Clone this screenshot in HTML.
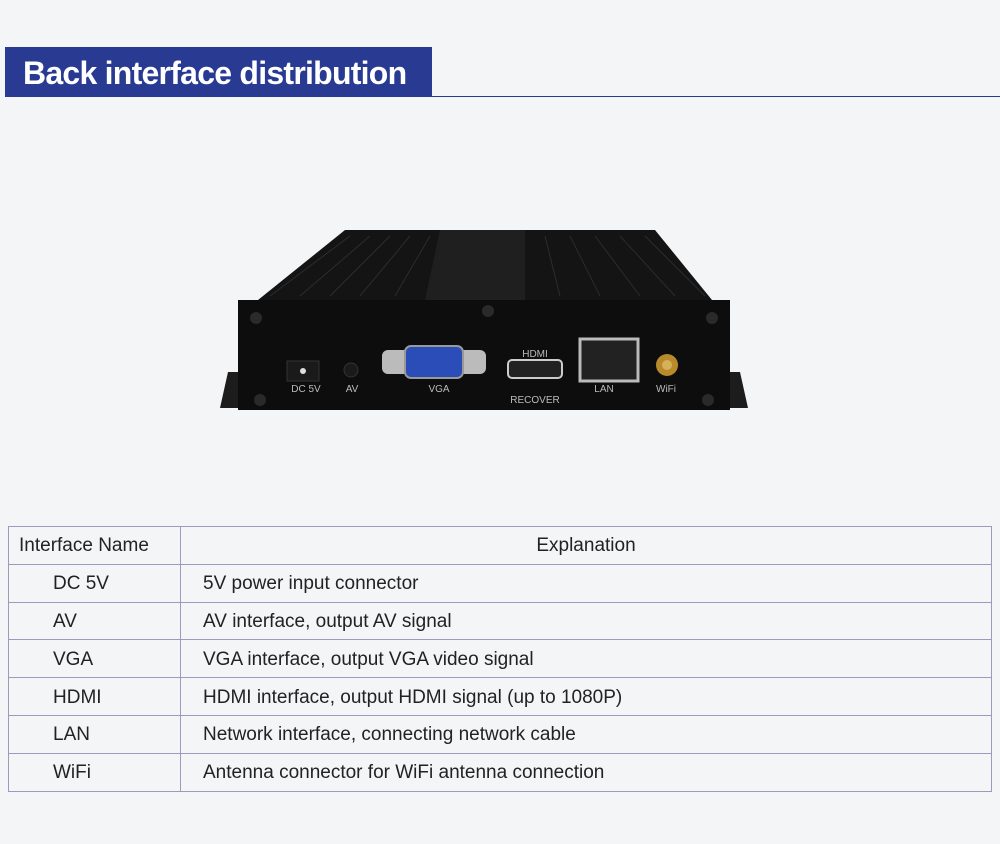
<!DOCTYPE html>
<html><head><meta charset="utf-8"><style>
body{margin:0;width:1000px;height:844px;background:#f4f5f7;position:relative;overflow:hidden;font-family:"Liberation Sans","DejaVu Sans",sans-serif}
.hd{position:absolute;left:5px;top:47px;width:427px;height:50px;background:#283a91;color:#fff;font-weight:bold;font-size:32px;line-height:52px;padding-left:18px;box-sizing:border-box;letter-spacing:-0.75px}
.ln{position:absolute;left:432px;top:96px;width:568px;height:1px;background:#283a91}
table{position:absolute;left:8px;top:526px;width:984px;border-collapse:collapse;table-layout:fixed;font-size:19px;color:#222}
td{border:1px solid #9b9bc0;height:37.8px;padding:0;padding-top:2px;box-sizing:border-box}
td.a{padding-left:44px}
td.b{padding-left:22px}
</style></head><body>
<div class="hd">Back interface distribution</div><div class="ln"></div>
<svg style="position:absolute;left:0;top:0" width="1000" height="844">
<polygon points="220,408 228,372 260,372 260,408" fill="#1c1c1c"/>
<polygon points="748,408 740,372 708,372 708,408" fill="#1c1c1c"/>
<polygon points="345,230 655,230 712,300 258,300" fill="#141414"/>
<polygon points="440,230 525,230 525,300 425,300" fill="#1f1f1f"/>
<g stroke="#2c2c2c" stroke-width="1">
<line x1="350" y1="236" x2="270" y2="296"/><line x1="370" y1="236" x2="300" y2="296"/><line x1="390" y1="236" x2="330" y2="296"/><line x1="410" y1="236" x2="360" y2="296"/><line x1="430" y1="236" x2="395" y2="296"/>
<line x1="545" y1="236" x2="560" y2="296"/><line x1="570" y1="236" x2="600" y2="296"/><line x1="595" y1="236" x2="640" y2="296"/><line x1="620" y1="236" x2="675" y2="296"/><line x1="645" y1="236" x2="705" y2="296"/>
</g>
<rect x="238" y="300" width="492" height="110" fill="#0d0d0d"/>
<g fill="#2a2a2a"><circle cx="256" cy="318" r="6"/><circle cx="488" cy="311" r="6"/><circle cx="712" cy="318" r="6"/><circle cx="260" cy="400" r="6"/><circle cx="708" cy="400" r="6"/></g>
<rect x="287" y="361" width="32" height="20" fill="#1a1a1a" stroke="#333"/><circle cx="303" cy="371" r="3" fill="#ddd"/>
<circle cx="351" cy="370" r="7" fill="#1a1a1a" stroke="#333"/>
<rect x="382" y="350" width="104" height="24" rx="6" fill="#bbb"/>
<rect x="405" y="346" width="58" height="32" rx="6" fill="#2b4db8" stroke="#999" stroke-width="2"/>
<rect x="508" y="360" width="54" height="18" rx="4" fill="#222" stroke="#ccc" stroke-width="2"/>
<rect x="580" y="339" width="58" height="42" fill="#222" stroke="#bbb" stroke-width="3"/>
<circle cx="667" cy="365" r="11" fill="#b88a2a"/><circle cx="667" cy="365" r="5" fill="#d4b15a"/>
<g fill="#bbb" font-size="10" text-anchor="middle">
<text x="306" y="392">DC 5V</text><text x="352" y="392">AV</text><text x="439" y="392">VGA</text>
<text x="535" y="357">HDMI</text><text x="535" y="403">RECOVER</text><text x="604" y="392">LAN</text><text x="666" y="392">WiFi</text></g>
</svg>
<table>
<colgroup><col style="width:172px"><col></colgroup>
<tr><td style="padding-left:10px">Interface Name</td><td style="text-align:center">Explanation</td></tr>
<tr><td class="a">DC 5V</td><td class="b">5V power input connector</td></tr>
<tr><td class="a">AV</td><td class="b">AV interface, output AV signal</td></tr>
<tr><td class="a">VGA</td><td class="b">VGA interface, output VGA video signal</td></tr>
<tr><td class="a">HDMI</td><td class="b">HDMI interface, output HDMI signal (up to 1080P)</td></tr>
<tr><td class="a">LAN</td><td class="b">Network interface, connecting network cable</td></tr>
<tr><td class="a">WiFi</td><td class="b">Antenna connector for WiFi antenna connection</td></tr>
</table>
</body></html>
